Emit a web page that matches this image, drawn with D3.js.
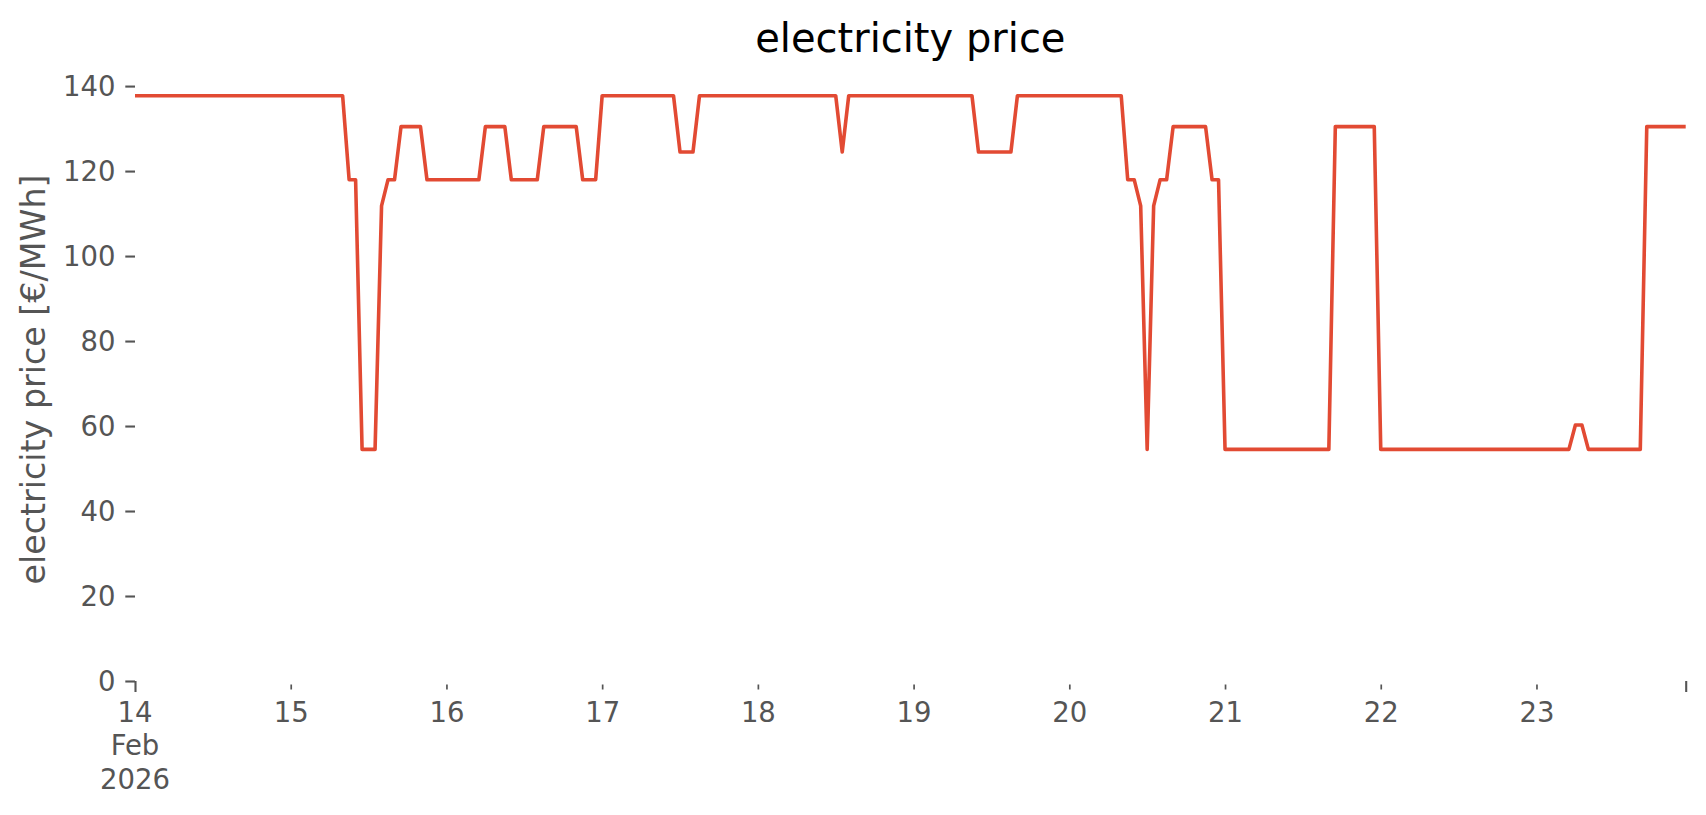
<!DOCTYPE html>
<html>
<head>
<meta charset="utf-8">
<script src="https://cdn.jsdelivr.net/npm/d3@7"></script>
<style>
  html, body { margin: 0; padding: 0; background: #fff; }
  svg { display: block; font-family: "DejaVu Sans", sans-serif; }
</style>
</head>
<body>
<svg id="chart" width="1706" height="815"></svg>
<script>
// ---- data ----
const title = "electricity price";
const yLabel = "electricity price [€/MWh]";
const startTime = "2026-02-14T00:00:00Z";
const endTime = "2026-02-23T23:00:00Z";
// hourly prices (€/MWh), one row per day (14 Feb .. 23 Feb 2026)
const prices = [
  137.73,137.73,137.73,137.73,137.73,137.73,137.73,137.73,137.73,137.73,137.73,137.73,137.73,137.73,137.73,137.73,137.73,137.73,137.73,137.73,137.73,137.73,137.73,137.73,
  137.73,137.73,137.73,137.73,137.73,137.73,137.73,137.73,137.73,117.97,117.97,54.5,54.5,54.5,111.8,117.97,117.97,130.45,130.45,130.45,130.45,117.97,117.97,117.97,
  117.97,117.97,117.97,117.97,117.97,117.97,130.45,130.45,130.45,130.45,117.97,117.97,117.97,117.97,117.97,130.45,130.45,130.45,130.45,130.45,130.45,117.97,117.97,117.97,
  137.73,137.73,137.73,137.73,137.73,137.73,137.73,137.73,137.73,137.73,137.73,137.73,124.5,124.5,124.5,137.73,137.73,137.73,137.73,137.73,137.73,137.73,137.73,137.73,
  137.73,137.73,137.73,137.73,137.73,137.73,137.73,137.73,137.73,137.73,137.73,137.73,137.73,124.5,137.73,137.73,137.73,137.73,137.73,137.73,137.73,137.73,137.73,137.73,
  137.73,137.73,137.73,137.73,137.73,137.73,137.73,137.73,137.73,137.73,124.5,124.5,124.5,124.5,124.5,124.5,137.73,137.73,137.73,137.73,137.73,137.73,137.73,137.73,
  137.73,137.73,137.73,137.73,137.73,137.73,137.73,137.73,137.73,117.97,117.97,111.8,54.5,111.8,117.97,117.97,130.45,130.45,130.45,130.45,130.45,130.45,117.97,117.97,
  54.5,54.5,54.5,54.5,54.5,54.5,54.5,54.5,54.5,54.5,54.5,54.5,54.5,54.5,54.5,54.5,54.5,130.45,130.45,130.45,130.45,130.45,130.45,130.45,
  54.5,54.5,54.5,54.5,54.5,54.5,54.5,54.5,54.5,54.5,54.5,54.5,54.5,54.5,54.5,54.5,54.5,54.5,54.5,54.5,54.5,54.5,54.5,54.5,
  54.5,54.5,54.5,54.5,54.5,54.5,60.26,60.26,54.5,54.5,54.5,54.5,54.5,54.5,54.5,54.5,54.5,130.45,130.45,130.45,130.45,130.45,130.45,130.45
];
const yTicks = [0, 20, 40, 60, 80, 100, 120, 140];
const yMax = 141.9;
const firstTickLabel = ["14", "Feb", "2026"];

// ---- layout ----
const mLeft = 135, mRight = 1685.7, mTop = 78, mBottom = 681;
const tickColor = "#555555";
const fsTick = 27.5, fsLabel = 33.3, fsTitle = 40;

const t0 = new Date(startTime), t1 = new Date(endTime);
const data = prices.map((v, i) => ({ t: d3.utcHour.offset(t0, i), v }));

const x = d3.scaleUtc().domain([t0, t1]).range([mLeft, mRight]);
const y = d3.scaleLinear().domain([0, yMax]).range([mBottom, mTop]);

const svg = d3.select("#chart");
svg.append("rect").attr("width", 1706).attr("height", 815).attr("fill", "#fff");

svg.append("defs").append("clipPath").attr("id", "clip")
  .append("rect").attr("x", mLeft).attr("y", mTop).attr("width", mRight - mLeft).attr("height", mBottom - mTop);

// y axis
const yAxis = d3.axisLeft(y).tickValues(yTicks).tickSize(9.7).tickPadding(9.7).tickFormat(d3.format("d"));
const gy = svg.append("g").attr("transform", `translate(${mLeft},0)`).call(yAxis);
gy.select(".domain").remove();
gy.selectAll(".tick line").attr("stroke", tickColor).attr("stroke-width", 2.1);
gy.selectAll(".tick text").attr("fill", tickColor).attr("font-size", fsTick)
  .attr("font-family", "DejaVu Sans").attr("dy", "0.35em");

// x axis: minor day ticks with labels
const days = d3.utcDay.range(d3.utcDay.offset(t0, 1), t1);
const xMinor = d3.axisBottom(x).tickValues(days).tickSize(5).tickPadding(0)
  .tickFormat(d3.utcFormat("%-d"));
const gxm = svg.append("g").attr("transform", `translate(0,${mBottom + 3.5})`).call(xMinor);
gxm.select(".domain").remove();
gxm.selectAll(".tick line").attr("stroke", tickColor).attr("stroke-width", 1.7);
gxm.selectAll(".tick text").attr("fill", tickColor).attr("font-size", fsTick)
  .attr("font-family", "DejaVu Sans").attr("y", 722 - mBottom - 3.5).attr("dy", 0);

// x axis: major ticks (start and end)
const xMajor = d3.axisBottom(x).tickValues([t0, t1]).tickSize(11).tickFormat("");
const gxM = svg.append("g").attr("transform", `translate(0,${mBottom})`).call(xMajor);
gxM.select(".domain").remove();
gxM.selectAll(".tick line").attr("stroke", tickColor).attr("stroke-width", 2.1);
const lbl = svg.append("text").attr("fill", tickColor).attr("font-size", fsTick)
  .attr("text-anchor", "middle").attr("font-family", "DejaVu Sans");
firstTickLabel.forEach((s, i) => {
  lbl.append("tspan").attr("x", x(t0)).attr("y", 722 + i * 33.4).text(s);
});

// line
const line = d3.line().x(d => x(d.t)).y(d => y(d.v));
svg.append("path").datum(data)
  .attr("clip-path", "url(#clip)")
  .attr("d", line)
  .attr("fill", "none")
  .attr("stroke", "#E24A33")
  .attr("stroke-width", 3.6)
  .attr("stroke-linejoin", "round")
  .attr("stroke-linecap", "square");

// title
svg.append("text").attr("x", (mLeft + mRight) / 2).attr("y", 52)
  .attr("text-anchor", "middle").attr("font-size", fsTitle).attr("fill", "#000")
  .attr("font-family", "DejaVu Sans")
  .text(title);

// y label
svg.append("text")
  .attr("transform", `translate(45,${(mTop + mBottom) / 2}) rotate(-90)`)
  .attr("text-anchor", "middle").attr("font-size", fsLabel).attr("fill", tickColor)
  .attr("font-family", "DejaVu Sans")
  .text(yLabel);
</script>
</body>
</html>
